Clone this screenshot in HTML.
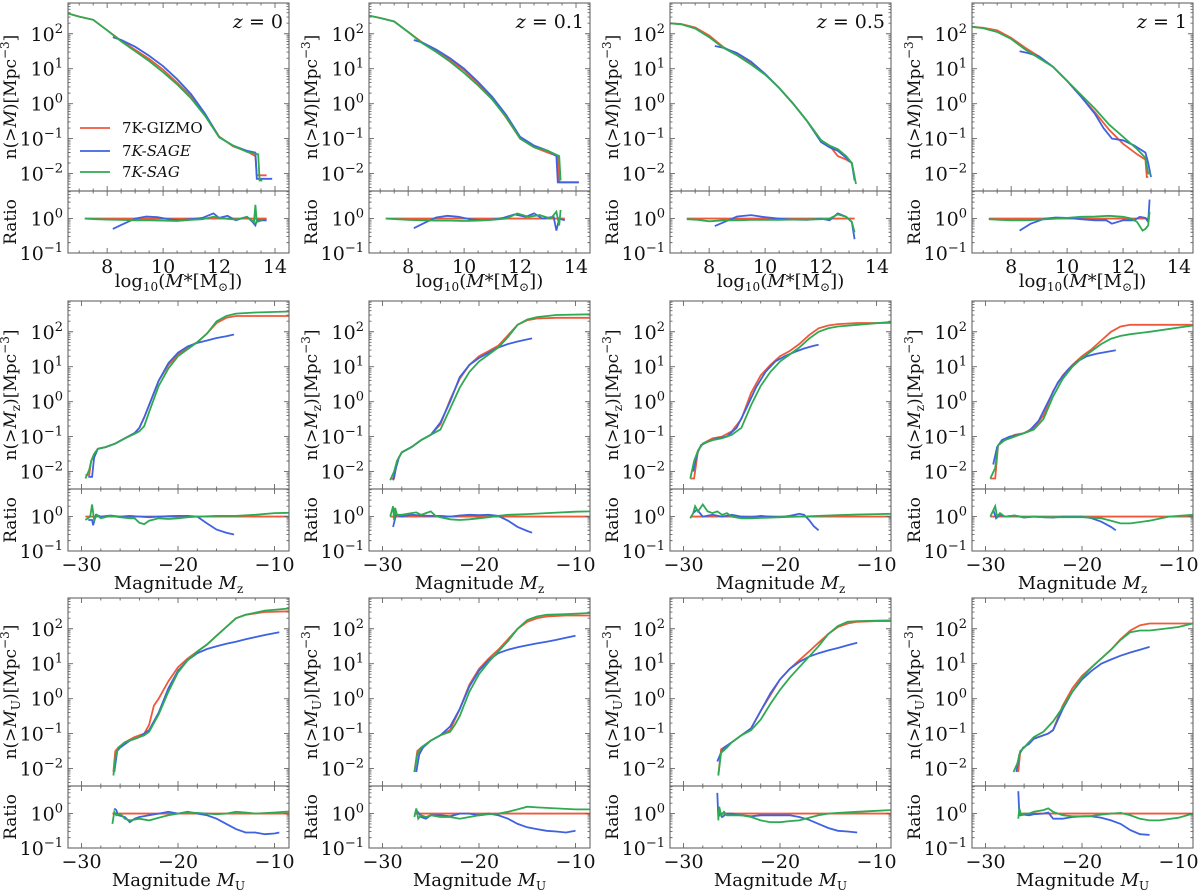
<!DOCTYPE html>
<html><head><meta charset="utf-8"><style>
html,body{margin:0;padding:0;background:#fff;}
svg{display:block;font-family:"DejaVu Serif","Liberation Serif",serif;}
</style></head><body>
<svg id="fig" width="1200" height="892" viewBox="0 0 1200 892" xmlns="http://www.w3.org/2000/svg"></svg>
<script>
// ---------- data (values are log10) ----------
const redX=[
[6.6,7,7.5,8,8.5,9,9.5,10,10.5,11,11.5,12,12.5,13,13.3,13.35,13.7],
[6.6,7,7.5,8,8.5,9,9.5,10,10.5,11,11.5,12,12.5,13,13.35,13.4,14.1],
[6.6,7,7.5,8,8.5,9,9.5,10,10.5,11,11.5,12,12.3,12.6,12.9,13.1,13.2],
[6.6,7,7.5,8,8.5,9,9.5,10,10.5,11,11.5,12,12.5,12.8,12.85,12.9],
[-29.6,-29.2,-29,-28.7,-28.3,-27.5,-26.5,-25.5,-24.5,-24,-23.5,-23,-22,-21,-20,-19,-18,-17,-16,-15,-14,-12,-8.5],
[-29.2,-28.8,-28.5,-28,-27,-26,-25,-24,-23,-22,-21,-20,-19,-18,-17,-16,-15,-14,-12,-8.5],
[-29.3,-28.9,-28.5,-28,-27,-26,-25,-24,-23,-22,-21,-20,-19,-18,-17,-16,-15,-14,-12,-8.5],
[-29.5,-29,-28.7,-28,-27,-26,-25,-24,-23,-22,-21,-20,-19,-18,-17,-16,-15,-13,-8.5],
[-26.7,-26.5,-26.2,-25.5,-24.5,-23.5,-23,-22.5,-22,-21,-20,-19,-18,-17,-16,-15,-14,-13,-11,-8.5],
[-26.7,-26.4,-26,-25,-24,-23,-22.5,-22,-21,-20,-19,-18,-17,-16,-15,-14,-13,-11,-8.5],
[-26.4,-26.1,-25.5,-25,-24,-23,-22,-21,-20,-19,-18,-17,-16,-15,-14,-13,-12,-10,-8.5],
[-26.6,-26.4,-26,-25.5,-25,-24,-23.5,-23,-22,-21,-20,-19,-18,-17,-16,-15,-14,-13,-12,-8.5]];
const redY=[
[2.58,2.49,2.4,2.1,1.8,1.54,1.28,0.97,0.6,0.2,-0.31,-0.94,-1.22,-1.37,-1.5,-2.05,-2.05],
[2.52,2.45,2.35,2.05,1.75,1.5,1.25,0.95,0.58,0.15,-0.4,-1.0,-1.25,-1.4,-1.5,-2.25,-2.25],
[2.3,2.28,2.18,1.95,1.62,1.4,1.15,0.85,0.45,0.0,-0.5,-1.05,-1.2,-1.5,-1.6,-1.7,-2.1],
[2.2,2.17,2.1,1.88,1.6,1.35,1.05,0.65,0.2,-0.25,-0.75,-1.15,-1.45,-1.6,-2.1,-2.1],
[-2.1,-2.1,-1.7,-1.5,-1.35,-1.3,-1.2,-1.05,-0.9,-0.75,-0.45,-0.1,0.6,1.05,1.35,1.55,1.7,1.95,2.25,2.4,2.45,2.45,2.45],
[-2.2,-2.2,-1.7,-1.45,-1.3,-1.1,-0.95,-0.65,0.05,0.65,1.05,1.3,1.45,1.6,1.9,2.2,2.33,2.38,2.4,2.4],
[-2.2,-2.2,-1.4,-1.2,-1.05,-1.0,-0.85,-0.5,0.25,0.75,1.05,1.3,1.45,1.65,1.9,2.1,2.18,2.22,2.25,2.25],
[-2.2,-2.2,-1.25,-1.1,-0.95,-0.9,-0.75,-0.4,0.3,0.75,1.05,1.3,1.5,1.75,2.0,2.15,2.2,2.2,2.2],
[-2.1,-1.5,-1.4,-1.25,-1.1,-1.0,-0.75,-0.2,0.0,0.5,0.9,1.15,1.35,1.55,1.8,2.05,2.3,2.4,2.48,2.5],
[-2.1,-1.5,-1.4,-1.2,-1.05,-0.9,-0.6,-0.3,0.4,0.85,1.15,1.4,1.7,2.0,2.2,2.3,2.35,2.38,2.38],
[-2.2,-1.45,-1.35,-1.25,-1.05,-0.85,-0.35,0.1,0.55,0.85,1.1,1.35,1.6,1.85,2.05,2.15,2.2,2.22,2.22],
[-2.1,-1.5,-1.4,-1.25,-1.15,-1.05,-1.0,-0.9,-0.2,0.3,0.65,0.9,1.15,1.4,1.7,1.95,2.1,2.15,2.15,2.15]];
const greenX=[
[6.6,7,7.5,8,8.5,9,9.5,10,10.5,11,11.5,12,12.5,13,13.4,13.45,13.55],
[6.6,7,7.5,8,8.5,9,9.5,10,10.5,11,11.5,12,12.5,13,13.4,13.45],
[6.6,7,7.5,8,8.5,9,9.5,10,10.5,11,11.5,12,12.3,12.6,12.9,13.1,13.25],
[6.6,7,7.5,8,8.5,9,9.5,10,10.5,11,11.5,12,12.5,12.8,12.9,13.0],
[-29.6,-29.2,-29,-28.7,-28.3,-27.5,-26.5,-25.5,-24.5,-24,-23.5,-23,-22,-21,-20,-19,-18,-17,-16,-15,-14,-12,-8.5],
[-29.2,-28.8,-28.5,-28,-27,-26,-25,-24,-23,-22,-21,-20,-19,-18,-17,-16,-15,-14,-12,-8.5],
[-29.3,-28.9,-28.5,-28,-27,-26,-25,-24,-23,-22,-21,-20,-19,-18,-17,-16,-15,-14,-12,-8.5],
[-29.5,-29,-28.7,-28,-27,-26,-25,-24,-23,-22,-21,-20,-19,-18,-17,-16,-15,-13,-8.5],
[-26.7,-26.5,-26.2,-25.5,-24.5,-23.5,-23,-22.5,-22,-21,-20,-19,-18,-17,-16,-15,-14,-13,-11,-8.5],
[-26.7,-26.4,-26,-25,-24,-23,-22.5,-22,-21,-20,-19,-18,-17,-16,-15,-14,-13,-11,-8.5],
[-26.4,-26.1,-25.5,-25,-24,-23,-22,-21,-20,-19,-18,-17,-16,-15,-14,-13,-12,-10,-8.5],
[-27.1,-26.7,-26.4,-26,-25.5,-25,-24,-23,-22,-21,-20,-19,-18,-17,-16,-15,-14,-13,-12,-10,-8.5]];
const greenY=[
[2.58,2.49,2.4,2.1,1.78,1.5,1.22,0.9,0.55,0.15,-0.35,-0.96,-1.2,-1.38,-1.45,-2.2,-2.2],
[2.52,2.45,2.35,2.05,1.73,1.48,1.2,0.88,0.52,0.12,-0.38,-1.0,-1.25,-1.35,-1.5,-2.2],
[2.3,2.27,2.15,1.9,1.6,1.38,1.12,0.83,0.45,0.0,-0.5,-1.05,-1.2,-1.3,-1.5,-1.7,-2.3],
[2.2,2.16,2.05,1.85,1.55,1.3,1.05,0.65,0.25,-0.15,-0.6,-0.95,-1.3,-1.55,-2.0,-2.0],
[-2.2,-1.95,-1.7,-1.5,-1.35,-1.3,-1.2,-1.05,-0.92,-0.85,-0.7,-0.3,0.45,0.95,1.3,1.5,1.7,1.95,2.3,2.45,2.52,2.55,2.58],
[-2.25,-2.0,-1.7,-1.45,-1.3,-1.1,-0.95,-0.8,-0.2,0.4,0.85,1.15,1.35,1.55,1.85,2.2,2.35,2.42,2.48,2.5],
[-2.2,-1.7,-1.4,-1.2,-1.1,-1.05,-0.95,-0.75,-0.1,0.45,0.85,1.15,1.35,1.55,1.8,2.0,2.1,2.15,2.2,2.28],
[-2.2,-1.9,-1.25,-1.1,-1.0,-0.9,-0.8,-0.5,0.15,0.65,1.0,1.25,1.45,1.65,1.8,1.88,1.93,2.0,2.18],
[-2.2,-1.7,-1.4,-1.25,-1.15,-1.05,-0.95,-0.7,-0.45,0.2,0.75,1.1,1.35,1.55,1.8,2.05,2.3,2.4,2.52,2.58],
[-2.1,-1.6,-1.4,-1.2,-1.05,-0.95,-0.75,-0.5,0.2,0.7,1.05,1.35,1.65,2.0,2.25,2.35,2.4,2.42,2.45],
[-2.2,-1.55,-1.4,-1.25,-1.05,-0.9,-0.6,-0.15,0.25,0.6,0.9,1.2,1.5,1.85,2.08,2.2,2.22,2.23,2.24],
[-2.1,-1.85,-1.5,-1.4,-1.25,-1.1,-0.95,-0.65,-0.25,0.2,0.6,0.9,1.15,1.4,1.68,1.9,1.95,1.95,1.98,2.05,2.15]];
const blueX=[
[8.2,8.5,9,9.5,10,10.5,11,11.5,12,12.5,13,13.3,13.35,13.9],
[8.2,8.5,9,9.5,10,10.5,11,11.5,12,12.5,13,13.3,13.35,14.1],
[8.2,8.5,9,9.5,10,10.5,11,11.5,12,12.3,12.6,12.9,13.1,13.2],
[8.3,8.6,9,9.5,10,10.5,11,11.3,11.6,12,12.4,12.8,12.9,13.0],
[-29.3,-28.9,-28.7,-28.3,-27.5,-26.5,-25.5,-24.5,-24,-23.5,-23,-22,-21,-20,-19,-18,-17,-16,-15,-14.2],
[-28.9,-28.6,-28.3,-28,-27,-26,-25,-24,-23,-22,-21,-20,-19,-18,-17,-16,-15,-14.5],
[-29,-28.6,-28.2,-27.5,-26.5,-25.5,-24.5,-23.5,-22.5,-21.5,-20.5,-19.5,-18.5,-17.5,-16.5,-16],
[-29.2,-28.8,-28.3,-27.5,-26.5,-25.5,-24.5,-23.5,-22.5,-21.5,-20.5,-19.5,-18.5,-17.5,-16.5],
[-26.6,-26.3,-26,-25,-24,-23,-22,-21,-20,-19,-18,-17,-16,-15,-14,-13,-12,-11,-9.5],
[-26.5,-26.2,-25.8,-25,-24,-23,-22,-21,-20,-19,-18,-17,-16,-15,-14,-13,-12,-11,-10],
[-26.5,-26.2,-25.8,-25,-24,-23,-22,-21,-20,-19,-18,-17,-16,-15,-14,-13,-12],
[-26.8,-26.5,-26.1,-25.5,-25,-24,-23.5,-23,-22,-21,-20,-19,-18,-17,-16,-15,-14,-13]];
const blueY=[
[1.9,1.82,1.63,1.37,1.07,0.7,0.27,-0.29,-0.96,-1.2,-1.35,-1.4,-2.15,-2.15],
[1.82,1.75,1.55,1.3,1.0,0.62,0.2,-0.32,-0.95,-1.2,-1.35,-1.5,-2.25,-2.25],
[1.65,1.6,1.45,1.2,0.85,0.45,0.0,-0.5,-1.1,-1.25,-1.35,-1.55,-1.7,-2.2],
[1.5,1.45,1.35,1.05,0.65,0.2,-0.3,-0.7,-1.0,-1.05,-1.2,-1.4,-1.7,-2.1],
[-2.15,-2.15,-1.6,-1.35,-1.3,-1.2,-1.05,-0.9,-0.75,-0.45,-0.1,0.6,1.1,1.4,1.58,1.68,1.75,1.82,1.87,1.92],
[-2.25,-1.9,-1.6,-1.45,-1.3,-1.1,-0.95,-0.6,0.0,0.7,1.05,1.25,1.4,1.55,1.65,1.72,1.78,1.81],
[-2.0,-1.5,-1.25,-1.15,-1.05,-1.0,-0.75,-0.2,0.4,0.85,1.15,1.3,1.42,1.52,1.6,1.63],
[-1.8,-1.3,-1.1,-1.0,-0.95,-0.85,-0.55,0.0,0.55,0.9,1.15,1.3,1.37,1.42,1.47],
[-2.1,-1.5,-1.4,-1.2,-1.1,-0.9,-0.4,0.3,0.8,1.1,1.3,1.42,1.5,1.57,1.63,1.7,1.76,1.82,1.9],
[-2.1,-1.6,-1.4,-1.2,-1.05,-0.8,-0.3,0.35,0.8,1.1,1.3,1.4,1.47,1.53,1.58,1.63,1.68,1.74,1.8],
[-1.8,-1.6,-1.4,-1.25,-1.05,-0.85,-0.35,0.15,0.55,0.85,1.05,1.2,1.3,1.38,1.45,1.53,1.6],
[-2.1,-1.6,-1.4,-1.3,-1.15,-1.05,-1.0,-0.9,-0.3,0.2,0.55,0.8,1.0,1.12,1.23,1.32,1.4,1.48]];
// ratio series
const redRatioRange=[[7.2,13.7],[7.2,13.6],[7.2,13.2],[7.2,12.95],[-29.6,-8.5],[-29.2,-8.5],[-29.3,-8.5],[-29.5,-8.5],[-26.8,-8.5],[-26.7,-8.5],[-26.4,-8.5],[-26.6,-8.5]];
const blueRX=[
[8.2,8.6,9,9.4,9.8,10.2,10.6,11,11.4,11.8,12,12.3,12.6,13,13.2,13.3,13.35,13.7],
[8.2,8.6,9,9.4,9.8,10.2,10.6,11,11.4,11.8,12.2,12.5,12.8,13.2,13.3,13.4,13.6],
[8.2,8.6,9,9.5,10,10.5,11,11.5,12,12.3,12.6,12.9,13.1,13.2],
[8.3,8.7,9.2,9.6,10,10.5,11,11.4,11.6,12,12.4,12.6,12.8,12.9,12.95],
[-29.3,-28.9,-28.8,-28.5,-28,-27,-26,-25,-24,-23,-22,-21,-20,-19,-18,-17.5,-17,-16,-15,-14.2],
[-28.9,-28.6,-28,-27,-26,-25,-24,-23,-22,-21,-20,-19,-18,-17,-16,-15,-14.5],
[-29,-28.6,-28,-27,-26,-25,-24,-23,-22,-21,-20,-19,-18,-17.5,-17,-16.5,-16],
[-29.2,-28.9,-28.5,-28,-27,-26,-25,-24,-23,-22,-21,-20,-19,-18,-17,-16.5],
[-26.6,-26.4,-26.2,-25.5,-25,-24.5,-24,-23,-22,-21,-20,-19,-18,-17,-16,-15,-14,-13,-12,-11,-10,-9.5],
[-26.5,-26.2,-26,-25.5,-25,-24,-23,-22,-21,-20,-19,-18,-17,-16,-15,-14,-13,-12,-11,-10],
[-26.5,-26.4,-26.2,-26,-25.5,-25,-24,-23,-22,-21,-20,-19,-18,-17,-16,-15,-14,-13,-12],
[-26.6,-26.5,-26.4,-26,-25.5,-25,-24,-23.5,-23,-22,-21,-20,-19,-18,-17,-16,-15,-14,-13]];
const blueRY=[
[-0.3,-0.15,0.0,0.06,0.04,-0.02,-0.05,-0.02,0.02,0.15,0.02,0.08,-0.05,0.05,-0.1,-0.2,-0.05,-0.05],
[-0.28,-0.12,0.03,0.08,0.05,-0.02,-0.05,-0.03,0.02,0.12,0.05,0.15,0.0,0.05,-0.35,0,-0.05],
[-0.22,-0.08,0.06,0.1,0.04,0.0,-0.03,-0.04,0.0,-0.05,0.15,0.05,-0.1,-0.6],
[-0.35,-0.15,0.0,0.03,0.02,-0.02,-0.05,-0.05,-0.15,-0.05,-0.05,0.05,0.02,-0.1,0.55],
[-0.1,-0.1,-0.25,0.05,0.0,0.03,0.0,0.02,0.0,-0.02,0.0,0.01,0.02,0.02,0.0,-0.1,-0.2,-0.38,-0.47,-0.52],
[-0.3,0.05,0.0,0.05,0.03,0.02,0.02,0.0,0.03,0.05,0.04,0.05,0.02,-0.12,-0.3,-0.42,-0.47],
[0.1,0.2,0.0,0.05,0.0,0.05,0.0,-0.02,0.02,0.0,-0.02,0.02,0.08,0.05,-0.1,-0.28,-0.4],
[0.2,-0.05,0.05,0.0,0.03,-0.03,0.0,-0.02,-0.03,0.0,0.0,0.0,-0.05,-0.15,-0.3,-0.4],
[0.15,0.1,-0.05,-0.1,-0.25,-0.15,-0.1,-0.05,0.0,0.05,0.0,0.05,0.0,-0.05,-0.15,-0.3,-0.45,-0.55,-0.55,-0.6,-0.58,-0.55],
[0.1,0.0,-0.1,-0.15,-0.05,-0.05,-0.08,0.0,0.0,-0.05,0.0,-0.05,-0.15,-0.3,-0.4,-0.45,-0.5,-0.52,-0.55,-0.5],
[0.6,-0.1,0.0,-0.1,0.0,0.0,-0.05,-0.08,-0.05,-0.05,-0.05,-0.05,-0.1,-0.18,-0.3,-0.42,-0.5,-0.52,-0.55],
[0.65,0.0,-0.05,-0.03,-0.05,-0.02,0.0,0.03,-0.15,-0.15,-0.1,-0.08,-0.08,-0.12,-0.2,-0.3,-0.48,-0.6,-0.62]];
const greenRX=[
[7.2,7.6,8,8.5,9,9.5,10,10.5,11,11.4,11.8,12.2,12.6,13,13.25,13.3,13.35,13.55],
[7.2,7.6,8,8.5,9,9.5,10,10.5,11,11.5,11.9,12.3,12.7,13.1,13.3,13.4,13.45],
[7.2,7.6,8,8.5,9,9.5,10,10.5,11,11.5,12,12.3,12.6,12.9,13.1,13.2],
[7.2,7.6,8,8.5,9,9.5,10,10.5,11,11.5,12,12.3,12.5,12.7,12.8,12.9,12.95],
[-29.6,-29.1,-28.9,-28.7,-28.4,-28,-27,-26,-25,-24.5,-24,-23.5,-23,-22,-21,-20,-19,-18,-16,-14,-12,-10,-8.5],
[-29.2,-28.9,-28.8,-28.7,-28.5,-28,-27,-26.5,-26,-25.5,-25,-24.5,-24,-23,-22,-21,-20,-19,-18,-17,-15,-13,-10,-8.5],
[-29.3,-29,-28.8,-28.5,-28,-27.5,-27,-26.5,-26,-25.5,-25,-24,-23,-22,-21,-20,-19,-18,-16,-14,-12,-10,-8.5],
[-29.5,-29,-28.8,-28.5,-28,-27,-26,-25,-24,-22,-20,-19,-18,-17,-16,-15,-13,-11,-8.5],
[-26.8,-26.6,-26.4,-26,-25.5,-25,-24,-23,-22,-21,-20,-19,-18,-17,-16,-15,-14,-13,-12,-10,-8.5],
[-26.7,-26.5,-26.3,-26,-25.5,-25,-24,-23,-22,-21,-20,-19,-18,-17,-16,-15,-14,-12,-10,-8.5],
[-26.4,-26.3,-26.1,-25.8,-25.5,-25,-24,-23,-22,-21,-20,-19,-18,-17,-16,-15,-14,-12,-10,-8.5],
[-26.6,-26.5,-26.3,-26,-25.5,-25,-24,-23.5,-23,-22,-21,-20,-19,-18,-17,-16,-15,-14,-13,-12,-10,-8.5]];
const greenRY=[
[0,-0.02,-0.03,-0.04,-0.05,-0.05,-0.06,-0.07,-0.04,-0.02,0.05,0.0,-0.03,0.05,-0.1,0.4,-0.1,-0.05],
[0,-0.02,-0.04,-0.05,-0.06,-0.06,-0.07,-0.06,-0.04,0.0,0.15,0.05,0.1,0.0,0.2,-0.2,0.25],
[-0.02,-0.04,-0.08,-0.05,-0.05,-0.04,-0.04,-0.04,-0.03,-0.03,-0.02,0.0,0.12,0.05,-0.1,-0.4],
[-0.02,-0.04,-0.05,-0.05,-0.03,-0.01,0.02,0.05,0.06,0.08,0.05,0.0,-0.1,-0.35,-0.3,-0.2,0.2],
[-0.1,0.0,0.35,-0.1,0.05,-0.05,0.02,-0.02,-0.05,-0.05,-0.18,-0.22,-0.12,-0.05,-0.07,-0.05,-0.02,0.0,0.02,0.02,0.05,0.1,0.11],
[0,0.3,-0.1,0.25,0.05,0.05,0.1,0.12,0.05,0.1,0.15,0.02,-0.02,-0.08,-0.1,-0.08,-0.05,-0.02,0.02,0.05,0.07,0.1,0.14,0.15],
[-0.05,0.1,0.3,0.15,0.35,0.15,0.1,0.15,0.05,0.1,0.0,-0.05,-0.05,-0.04,-0.03,-0.02,-0.01,0.0,0.02,0.04,0.06,0.07,0.08],
[0,0.3,0.0,0.1,0.0,0.03,-0.02,0.0,-0.02,-0.02,-0.02,-0.03,-0.05,-0.12,-0.2,-0.2,-0.12,0.0,0.05],
[-0.3,0.05,-0.05,0.0,-0.15,-0.2,-0.15,-0.2,-0.12,-0.05,0.0,0.03,0.02,0.0,-0.02,0.0,0.05,0.03,0.0,0.03,0.06],
[-0.1,0.15,-0.15,-0.05,-0.1,-0.05,-0.1,-0.1,-0.15,-0.1,-0.05,-0.02,0.0,0.05,0.12,0.2,0.18,0.15,0.12,0.12],
[-0.2,0.2,-0.05,0.05,-0.05,-0.05,-0.05,-0.1,-0.2,-0.25,-0.25,-0.22,-0.2,-0.12,-0.05,0.0,0.02,0.05,0.08,0.1],
[-0.15,0.15,-0.05,0.0,0.0,0.05,0.1,0.15,0.05,-0.05,-0.08,-0.08,-0.07,-0.03,0.0,0.02,-0.05,-0.15,-0.2,-0.2,-0.12,0.0]];
const zLabels=["0","0.1","0.5","1"];
const massTicks=[8,10,12,14];
const magTicks=[-30,-20,-10];
const yTickExp=[-2,-1,0,1,2];
const ratioTickExp=[-1,0];

// ---------- layout ----------
const NS="http://www.w3.org/2000/svg";
const svg=document.getElementById('fig');
const COLS=[68,369,670,972], W=221;
const ROWS=[3,301,598], MH=188, RH=62;
const YMIN=-2.5, YMAX=2.88, RMIN=-1, RMAX=0.8;
const C={red:"#f0583a",blue:"#3e62e0",green:"#2eaa52"};
function el(tag,attrs,parent){const e=document.createElementNS(NS,tag);for(const k in attrs)e.setAttribute(k,attrs[k]);(parent||svg).appendChild(e);return e;}
function powText(x,y,exp,anchor,parent){
  const t=el('text',{x:x,y:y,'font-size':19,'text-anchor':anchor,fill:'#111'},parent);
  t.appendChild(document.createTextNode('10'));
  const s=el('tspan',{dy:-8,'font-size':13},t);s.textContent=(exp<0?'\u2212':'')+Math.abs(exp);
  return t;
}
let clipId=0;
for(let p=0;p<12;p++){
  const row=Math.floor(p/4), col=p%4;
  const L=COLS[col], T=ROWS[row], SEP=T+MH, B=SEP+RH;
  const isMass=row===0;
  const xmin=isMass?6.6:-31.4, xmax=isMass?14.5:-8.5;
  const sx=v=>L+(v-xmin)/(xmax-xmin)*W;
  const sy=v=>T+(YMAX-v)/(YMAX-YMIN)*MH;
  const sr=v=>SEP+(RMAX-v)/(RMAX-RMIN)*RH;
  const g=el('g',{});
  
  
  const cm='c'+(clipId++), cr='c'+(clipId++);
  const defs=el('defs',{},g);
  const c1=el('clipPath',{id:cm},defs);el('rect',{x:L,y:T,width:W,height:MH},c1);
  const c2=el('clipPath',{id:cr},defs);el('rect',{x:L,y:SEP,width:W,height:RH},c2);
  const series=[['red',redX[p],redY[p]],['blue',blueX[p],blueY[p]],['green',greenX[p],greenY[p]]];
  series.forEach(([n,xs,ys])=>{
    const pts=xs.map((v,i)=>sx(v).toFixed(1)+','+sy(ys[i]).toFixed(1)).join(' ');
    const pl=el('polyline',{points:pts,fill:'none',stroke:C[n],'stroke-width':1.8,'clip-path':'url(#'+cm+')'},g);
    
    
  });
  const rr=redRatioRange[p];
  const rl=el('line',{x1:sx(rr[0]),x2:sx(rr[1]),y1:sr(0),y2:sr(0),stroke:C.red,'stroke-width':1.8},g);
  
  
  [['blue',blueRX[p],blueRY[p]],['green',greenRX[p],greenRY[p]]].forEach(([n,xs,ys])=>{
    const pts=xs.map((v,i)=>sx(v).toFixed(1)+','+sr(ys[i]).toFixed(1)).join(' ');
    const pl=el('polyline',{points:pts,fill:'none',stroke:C[n],'stroke-width':1.8,'clip-path':'url(#'+cr+')'},g);
    
    
  });
  el('rect',{x:L,y:T,width:W,height:MH,fill:'none',stroke:'#666','stroke-width':1.1},g);
  el('rect',{x:L,y:SEP,width:W,height:RH,fill:'none',stroke:'#666','stroke-width':1.1},g);
  let d='';
  const majX=isMass?massTicks:magTicks, minStep=isMass?0.5:2;
  for(let v=Math.ceil(xmin/minStep)*minStep; v<=xmax; v+=minStep){
    const X=sx(v), maj=majX.some(m=>Math.abs(m-v)<1e-6), len=maj?5:2.5;
    d+=`M${X},${T}v${len}M${X},${SEP}v${-len}M${X},${SEP}v${len}M${X},${B}v${-len}`;
  }
  for(let e=-3;e<=2;e++){for(let m=1;m<10;m++){const v=e+Math.log10(m);if(v<YMIN||v>YMAX)continue;const Y=sy(v),len=m===1?5:2.5;d+=`M${L},${Y}h${len}M${L+W},${Y}h${-len}`;}}
  for(let e=-1;e<=0;e++){for(let m=1;m<10;m++){const v=e+Math.log10(m);if(v<RMIN||v>RMAX)continue;const Y=sr(v),len=m===1?5:2.5;d+=`M${L},${Y}h${len}M${L+W},${Y}h${-len}`;}}
  el('path',{d:d,stroke:'#666','stroke-width':0.9,fill:'none'},g);
  majX.forEach(v=>{const t=el('text',{x:sx(v),y:B+20,'font-size':19,'text-anchor':'middle',fill:'#111'},g);t.textContent=(v<0?'\u2212':'')+Math.abs(v);});
  yTickExp.forEach(e=>powText(L-5,sy(e)+7,e,'end',g));
  ratioTickExp.forEach(e=>powText(L-5,sr(e)+7,e,'end',g));
  const ylx=L-52, yly=T+MH/2;
  const yl=el('text',{x:ylx,y:yly,'font-size':17,'text-anchor':'middle',fill:'#111',transform:`rotate(-90 ${ylx} ${yly})`},g);
  
  
  const sub=isMass?'':(row===1?'z':'U');
  yl.innerHTML='n(&gt;<tspan font-style="italic">M</tspan>'+(sub?'<tspan font-size="12" dy="4">'+sub+'</tspan><tspan dy="-4">)</tspan>':')')+'[Mpc<tspan font-size="12" dy="-7">\u22123</tspan><tspan dy="7">]</tspan>';
  const rly=SEP+RH/2;
  const rlab=el('text',{x:ylx,y:rly,'font-size':17,'text-anchor':'middle',fill:'#111',transform:`rotate(-90 ${ylx} ${rly})`},g);
  rlab.textContent='Ratio';
  
  
  const xl=el('text',{x:L+W/2,y:B+(isMass?34:38),'font-size':18,'text-anchor':'middle',fill:'#111'},g);
  
  
  if(isMass) xl.innerHTML='log<tspan font-size="12" dy="4">10</tspan><tspan dy="-4">(<tspan font-style="italic">M</tspan>*[M<tspan font-size="12" dy="4">\u2299</tspan><tspan dy="-4">])</tspan></tspan>';
  else xl.innerHTML='Magnitude <tspan font-style="italic">M</tspan><tspan font-size="12" dy="4">'+sub+'</tspan>';
  if(isMass){
    const zt=el('text',{x:L+W-6,y:T+25,'font-size':19,'text-anchor':'end',fill:'#111'},g);
    zt.innerHTML='<tspan font-style="italic">z</tspan> = '+zLabels[col];
    
    
  }
  if(p===0){
    const lg=el('g',{},g);
    
    
    [['red','7K-GIZMO',false,128],['blue','7K-SAGE',true,151],['green','7K-SAG',true,172]].forEach(([n,lab,it,y])=>{
      el('line',{x1:80,x2:110,y1:y,y2:y,stroke:C[n],'stroke-width':1.8},lg);
      const t=el('text',{x:122,y:y+5,'font-size':15,fill:'#111'},lg);
      t.innerHTML=it?lab.replace('7K-','7<tspan font-style="italic">K-</tspan>').replace(/(SAGE|SAG)$/,'<tspan font-style="italic">$1</tspan>'):lab;
      
      
    });
  }
}
</script>
</body></html>
